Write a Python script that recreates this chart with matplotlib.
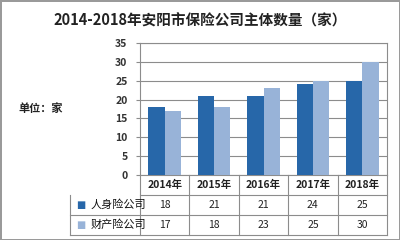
import matplotlib.pyplot as plt
import numpy as np

plt.rcParams['font.family'] = ['Noto Sans CJK SC', 'DejaVu Sans']

years = ['2014年', '2015年', '2016年', '2017年', '2018年']
life = [18, 21, 21, 24, 25]
prop = [17, 18, 23, 25, 30]
series_names = ['人身险公司', '财产险公司']
colors = ['#2767A9', '#98B3D8']

fig = plt.figure(figsize=(4, 2.4), dpi=100)
fig.patch.set_edgecolor('#9a9a9a')
fig.patch.set_linewidth(2)

ax = fig.add_axes([0.35, 0.271, 0.6175, 0.55])
x = np.arange(len(years))
w = 0.33
ax.bar(x - w / 2, life, w, color=colors[0], zorder=3)
ax.bar(x + w / 2, prop, w, color=colors[1], zorder=3)
ax.set_xlim(-0.5, len(years) - 0.5)
ax.set_ylim(0, 35)
ax.set_yticks(range(0, 36, 5))
ax.set_xticks([])
ax.grid(axis='y', color='#8c8c8c', linewidth=0.8, zorder=0)
for s in ax.spines.values():
    s.set_color('#8c8c8c')
ax.tick_params(axis='y', length=3, color='#8c8c8c', labelsize=7.5, pad=6)
for lbl in ax.get_yticklabels():
    lbl.set_fontweight('bold')
    lbl.set_color('#333333')

# data table under the plot
row_h = 20 / 132
lab_x = -70 / 247 * len(years) - 0.5
line_kw = dict(color='#8c8c8c', linewidth=0.8, clip_on=False,
               transform=ax.get_xaxis_transform())
tr = ax.get_xaxis_transform()
n = len(years)
# horizontal lines
ax.plot([-0.5, n - 0.5], [-row_h, -row_h], **line_kw)
for r in (2, 3):
    ax.plot([lab_x, n - 0.5], [-r * row_h, -r * row_h], **line_kw)
ax.plot([lab_x, lab_x], [-row_h, -3 * row_h], **line_kw)
for i in range(n + 1):
    ax.plot([i - 0.5, i - 0.5], [0, -3 * row_h], **line_kw)
for i, y in enumerate(years):
    ax.text(i, -0.5 * row_h, y, transform=tr, ha='center', va='center',
            fontsize=7.5, fontweight='bold', color='#222222')
for r, (name, vals) in enumerate(zip(series_names, [life, prop])):
    yy = -(r + 1.5) * row_h
    ax.text(lab_x + 0.12, yy, '■', transform=tr, ha='left', va='center',
            fontsize=7, color=colors[r], family=['DejaVu Sans'])
    ax.text(lab_x + 0.42, yy, name, transform=tr, ha='left', va='center',
            fontsize=8, color='#111111')
    for i, v in enumerate(vals):
        ax.text(i, yy, str(v), transform=tr, ha='center', va='center',
                fontsize=7.5, color='#222222')

fig.text(0.5, 0.915, '2014-2018年安阳市保险公司主体数量（家）', ha='center',
         va='center', fontsize=10.5, fontweight='bold', color='#222222')
fig.text(0.045, 0.55, '单位：家', ha='left', va='center', fontsize=8,
         fontweight='bold', color='#222222')

fig.savefig('out.png', dpi=100, edgecolor=fig.get_edgecolor())
